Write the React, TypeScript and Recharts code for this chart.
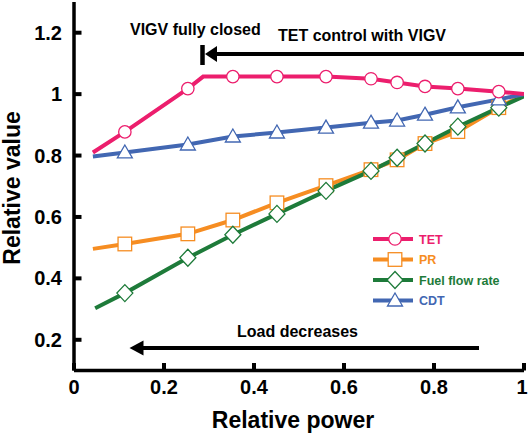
import React from 'react';
import { LineChart, Line, XAxis, YAxis, Legend } from 'recharts';

// ---- data ----
const tetPower = [0.042, 0.113, 0.253, 0.287, 0.353, 0.451, 0.56, 0.66, 0.718, 0.78, 0.853, 0.944, 1.0];
const tetValue = [0.81, 0.877, 1.018, 1.057, 1.057, 1.057, 1.057, 1.05, 1.038, 1.025, 1.018, 1.008, 1.0];
const tetUnmarked = [0, 3, 12];

const prPower = [0.042, 0.113, 0.253, 0.353, 0.451, 0.56, 0.66, 0.718, 0.78, 0.853, 0.944, 1.0];
const prValue = [0.496, 0.512, 0.545, 0.59, 0.646, 0.702, 0.754, 0.786, 0.839, 0.878, 0.956, 1.0];
const prUnmarked = [0, 11];

const fuelPower = [0.047, 0.113, 0.253, 0.353, 0.451, 0.56, 0.66, 0.718, 0.78, 0.853, 0.944, 1.0];
const fuelValue = [0.303, 0.352, 0.467, 0.542, 0.61, 0.685, 0.75, 0.793, 0.839, 0.894, 0.956, 0.993];
const fuelUnmarked = [0, 11];

const cdtPower = [0.042, 0.113, 0.253, 0.353, 0.451, 0.56, 0.66, 0.718, 0.78, 0.853, 0.944, 1.0];
const cdtValue = [0.797, 0.81, 0.836, 0.862, 0.875, 0.891, 0.907, 0.914, 0.933, 0.957, 0.983, 1.0];
const cdtUnmarked = [0, 11];

const xTicks = [0, 0.2, 0.4, 0.6, 0.8, 1];
const yTicks = [0.2, 0.4, 0.6, 0.8, 1, 1.2];

const seriesNames = ['TET', 'PR', 'Fuel flow rate', 'CDT'];
const xLabel = 'Relative power';
const yLabel = 'Relative value';
const noteClosed = 'VIGV fully closed';
const noteControl = 'TET control with VIGV';
const noteLoad = 'Load decreases';

// ---- styling ----
const FONT = '"Liberation Sans", Arial, Helvetica, sans-serif';
const C_TET = '#EC1E6D';
const C_PR = '#F68D22';
const C_FUEL = '#1E7B3A';
const C_CDT = '#4267B2';

const toRows = (p: number[], v: number[]) => p.map((x, i) => ({ p: x, v: v[i] }));

type Shape = 'circle' | 'square' | 'diamond' | 'triangle';

const marker = (shape: Shape, cx: number, cy: number, color: string, key?: any) => {
  const common = { fill: '#fff', stroke: color, strokeWidth: 1.3 };
  if (shape === 'circle') return <circle key={key} cx={cx} cy={cy} r={6.2} {...common} />;
  if (shape === 'square') return <rect key={key} x={cx - 6.8} y={cy - 6.8} width={13.6} height={13.6} {...common} />;
  if (shape === 'diamond')
    return <polygon key={key} points={`${cx},${cy - 8.5} ${cx + 8},${cy} ${cx},${cy + 8.5} ${cx - 8},${cy}`} {...common} />;
  return <polygon key={key} points={`${cx},${cy - 7.5} ${cx + 7.5},${cy + 5.5} ${cx - 7.5},${cy + 5.5}`} {...common} />;
};

const makeDot = (shape: Shape, color: string, unmarked: number[]) => (props: any) => {
  const { cx, cy, index } = props;
  if (unmarked.includes(index) || cx == null || cy == null) return <g key={`d-${shape}-${index}`} />;
  return <g key={`d-${shape}-${index}`}>{marker(shape, cx, cy, color)}</g>;
};

const fmt = (v: number) => String(Math.round(v * 10) / 10);

const BottomTick = (props: any) => {
  const { x, y, payload, index } = props;
  const last = index === xTicks.length - 1;
  return (
    <g>
      <line x1={x} x2={x} y1={y} y2={y - 7.5} stroke="#000" strokeWidth={4} />
      <text
        x={last ? 527.5 : x}
        y={y + 23.5}
        textAnchor={last ? 'end' : 'middle'}
        fontFamily={FONT}
        fontWeight="bold"
        fontSize={20}
        fill="#000"
      >
        {fmt(payload.value)}
      </text>
    </g>
  );
};

const LeftTick = (props: any) => {
  const { x, y, payload } = props;
  return (
    <g>
      <line x1={x} x2={x + 7.5} y1={y} y2={y} stroke="#000" strokeWidth={4} />
      <text x={x - 12} y={y + 7} textAnchor="end" fontFamily={FONT} fontWeight="bold" fontSize={20} fill="#000">
        {fmt(payload.value)}
      </text>
    </g>
  );
};

const TopTick = (props: any) => {
  const { x, y } = props;
  return <line x1={x} x2={x} y1={y} y2={y + 7.5} stroke="#000" strokeWidth={4} />;
};

const RightTick = (props: any) => {
  const { x, y } = props;
  return <line x1={x} x2={x - 7.5} y1={y} y2={y} stroke="#000" strokeWidth={4} />;
};

const legendItems: { name: string; color: string; shape: Shape }[] = [
  { name: seriesNames[0], color: C_TET, shape: 'circle' },
  { name: seriesNames[1], color: C_PR, shape: 'square' },
  { name: seriesNames[2], color: C_FUEL, shape: 'diamond' },
  { name: seriesNames[3], color: C_CDT, shape: 'triangle' },
];

const LegendContent = () => (
  <svg width={150} height={86} style={{ display: 'block' }}>
    {legendItems.map((it, i) => {
      const y = 11 + i * 20.5;
      return (
        <g key={it.name}>
          <line x1={3} x2={43} y1={y} y2={y} stroke={it.color} strokeWidth={4} />
          {marker(it.shape, 25, y, it.color)}
          <text x={49} y={y + 4.5} fontFamily={FONT} fontWeight="bold" fontSize={12.5} fill={it.color}>
            {it.name}
          </text>
        </g>
      );
    })}
  </svg>
);

export default function App() {
  return (
    <div style={{ position: 'absolute', left: 0, top: 0, width: 528, height: 434, background: '#fff' }}>
      <LineChart width={528} height={434} margin={{ top: 2, right: 4, left: 0, bottom: 0 }}>
        <XAxis
          xAxisId="x"
          dataKey="p"
          type="number"
          domain={[0, 1]}
          ticks={xTicks}
          interval={0}
          allowDataOverflow
          height={63.5}
          tickSize={0}
          tickMargin={0}
          tickLine={false}
          axisLine={{ stroke: '#000', strokeWidth: 3.5 }}
          tick={<BottomTick />}
        />
        <XAxis
          xAxisId="top"
          orientation="top"
          type="number"
          domain={[0, 1]}
          ticks={[0.2, 0.4, 0.6, 0.8]}
          interval={0}
          height={0}
          tickSize={0}
          tickMargin={0}
          tickLine={false}
          axisLine={{ stroke: '#000', strokeWidth: 3.5 }}
          tick={<TopTick />}
        />
        <YAxis
          yAxisId="y"
          type="number"
          domain={[0.1, 1.3]}
          ticks={yTicks}
          interval={0}
          allowDataOverflow
          width={74}
          tickSize={0}
          tickMargin={0}
          tickLine={false}
          axisLine={{ stroke: '#000', strokeWidth: 3.5 }}
          tick={<LeftTick />}
        />
        <YAxis
          yAxisId="right"
          orientation="right"
          type="number"
          domain={[0.1, 1.3]}
          ticks={yTicks}
          interval={0}
          width={0}
          tickSize={0}
          tickMargin={0}
          tickLine={false}
          axisLine={{ stroke: '#000', strokeWidth: 3.5 }}
          tick={<RightTick />}
        />
        <Legend
          layout="horizontal"
          verticalAlign="middle"
          align="center"
          wrapperStyle={{ left: 370, top: 228, width: 150, height: 86 }}
          content={<LegendContent />}
        />
        <Line
          xAxisId="x"
          yAxisId="y"
          data={toRows(prPower, prValue)}
          dataKey="v"
          name={seriesNames[1]}
          type="linear"
          stroke={C_PR}
          strokeWidth={4}
          dot={makeDot('square', C_PR, prUnmarked)}
          activeDot={false}
          isAnimationActive={false}
        />
        <Line
          xAxisId="x"
          yAxisId="y"
          data={toRows(fuelPower, fuelValue)}
          dataKey="v"
          name={seriesNames[2]}
          type="linear"
          stroke={C_FUEL}
          strokeWidth={4}
          dot={makeDot('diamond', C_FUEL, fuelUnmarked)}
          activeDot={false}
          isAnimationActive={false}
        />
        <Line
          xAxisId="x"
          yAxisId="y"
          data={toRows(cdtPower, cdtValue)}
          dataKey="v"
          name={seriesNames[3]}
          type="linear"
          stroke={C_CDT}
          strokeWidth={4}
          dot={makeDot('triangle', C_CDT, cdtUnmarked)}
          activeDot={false}
          isAnimationActive={false}
        />
        <Line
          xAxisId="x"
          yAxisId="y"
          data={toRows(tetPower, tetValue)}
          dataKey="v"
          name={seriesNames[0]}
          type="linear"
          stroke={C_TET}
          strokeWidth={4}
          dot={makeDot('circle', C_TET, tetUnmarked)}
          activeDot={false}
          isAnimationActive={false}
        />
      </LineChart>
      <svg
        width={528}
        height={434}
        style={{ position: 'absolute', left: 0, top: 0, pointerEvents: 'none' }}
      >
        <g fontFamily={FONT} fontWeight="bold" fill="#000">
          <text x={130} y={35} fontSize={16}>{noteClosed}</text>
          <text x={278} y={40.5} fontSize={16}>{noteControl}</text>
          <text x={297.5} y={337} fontSize={16} textAnchor="middle">{noteLoad}</text>
          <text x={293} y={428} fontSize={23} textAnchor="middle">{xLabel}</text>
          <text transform="translate(19.5,188) rotate(-90)" fontSize={23} textAnchor="middle">{yLabel}</text>
        </g>
        {/* VIGV arrow */}
        <line x1={202.5} x2={202.5} y1={45} y2={65} stroke="#000" strokeWidth={4.5} />
        <line x1={212} x2={524} y1={54} y2={54} stroke="#000" strokeWidth={4} />
        <polygon points="205,54 217,46 217,62" fill="#000" />
        {/* Load arrow */}
        <line x1={138} x2={479} y1={348} y2={348} stroke="#000" strokeWidth={4} />
        <polygon points="129.5,348 143.5,340.5 143.5,355.5" fill="#000" />
      </svg>
    </div>
  );
}
